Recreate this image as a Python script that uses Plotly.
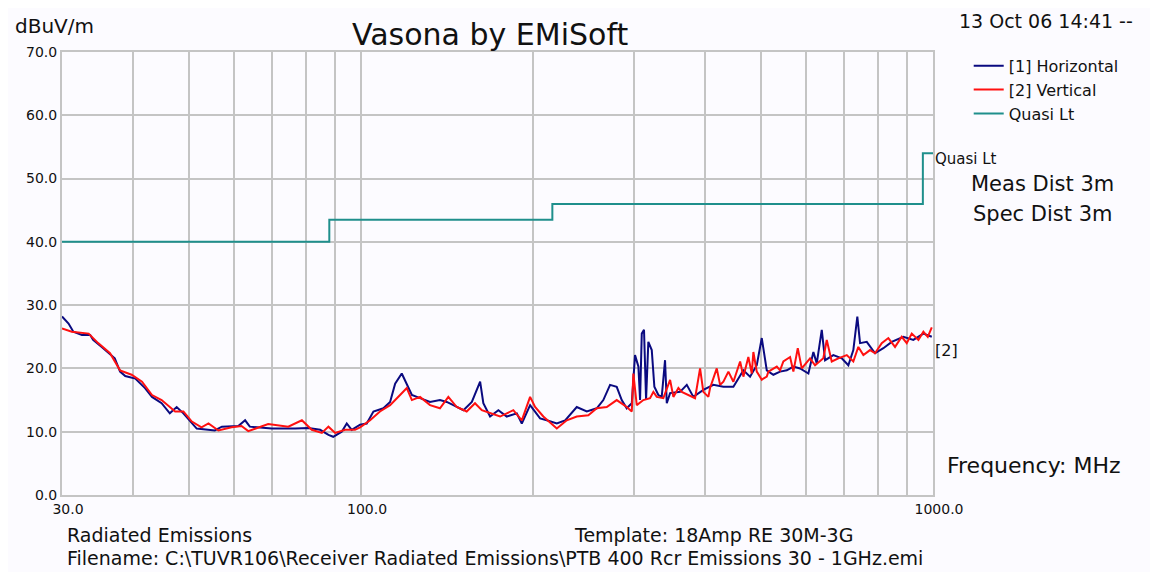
import plotly.graph_objects as go

# Horizontal polarisation [1] - frequency (MHz) / level (dBuV/m)
horiz_freq = [30.0, 30.8, 31.4, 32.5, 33.6, 34.0, 35.2, 37.1, 37.9, 38.7, 40.3, 41.9, 43.1, 44.8, 46.3, 47.6,
              48.9, 50.6, 51.6, 55.5, 57.1, 61.0, 62.7, 63.9, 69.8, 76.7, 80.9, 84.8, 87.7, 89.4, 92.5, 94.4,
              96.3, 99.6, 102.3, 105.1, 109.4, 112.4, 114.7, 117.8, 120.2, 122.7, 126.8, 132.0, 137.4, 141.2,
              145.0, 151.0, 156.2, 161.5, 163.6, 168.1, 173.8, 179.8, 187.2, 191.0, 197.5, 205.6, 211.2, 219.9,
              227.4, 238.3, 248.1, 258.3, 265.2, 272.5, 279.9, 285.6, 291.4, 297.4, 301.3, 305.4, 307.5, 309.6,
              312.4, 315.0, 317.9, 322.3, 325.7, 331.0, 335.5, 340.0, 342.4, 347.0, 361.2, 371.1, 381.1, 396.7,
              413.0, 430.0, 447.7, 466.1, 478.8, 491.9, 501.9, 506.6, 512.1, 525.9, 540.3, 555.1, 570.0, 585.6,
              605.5, 617.8, 626.3, 639.0, 647.6, 669.5, 692.6, 711.2, 725.6, 737.4, 745.5, 765.9, 791.9, 818.8,
              847.0, 887.5, 923.9, 962.0, 995.1]
horiz_level = [28.2, 27.1, 25.8, 25.3, 25.3, 24.5, 23.4, 21.6, 19.5, 18.8, 18.4, 16.9, 15.5, 14.5, 12.9, 13.9,
               12.9, 11.3, 10.5, 10.2, 10.8, 10.9, 11.8, 10.8, 10.5, 10.5, 10.6, 10.3, 9.5, 9.2, 10.0, 11.3,
               10.3, 11.1, 11.3, 13.2, 13.7, 14.7, 17.6, 19.2, 17.6, 15.8, 15.3, 14.7, 15.0, 14.7,
               14.2, 13.4, 14.7, 17.9, 14.5, 12.4, 13.4, 12.4, 12.9, 11.3, 14.2, 12.1, 11.8, 11.3,
               11.8, 13.9, 13.2, 13.7, 15.0, 17.4, 17.1, 15.0, 13.7, 14.5, 22.1, 20.3, 15.0, 25.5,
               26.1, 15.0, 24.2, 22.9, 17.1, 15.8, 15.5, 21.3, 14.5, 16.1, 16.3, 17.4, 15.5, 16.6,
               17.4, 17.1, 17.1, 19.7, 18.7, 20.5, 24.8, 22.4, 19.7, 19.0, 19.5, 19.7, 20.3, 20.0,
               19.2, 22.6, 20.8, 26.1, 21.3, 22.1, 21.6, 20.5, 22.9, 28.2, 24.0, 24.2, 22.4, 23.2,
               24.2, 25.0, 24.5, 25.5, 25.0]

# Vertical polarisation [2]
vert_freq = [30.0, 31.2, 33.4, 34.7, 36.4, 37.9, 39.7, 41.4, 43.1, 44.8, 47.3, 48.9, 50.6, 52.6, 54.1, 56.3,
             59.4, 61.8, 63.5, 68.8, 74.6, 78.8, 82.0, 85.4, 87.7, 90.1, 93.8, 97.6, 99.6, 103.7, 107.9, 112.4,
             117.0, 120.2, 122.7, 126.8, 132.0, 137.4, 142.1, 147.0, 153.0, 158.2, 162.6, 168.1, 175.0, 184.6,
             191.0, 197.5, 201.5, 208.3, 215.5, 219.9, 228.9, 238.3, 249.7, 258.3, 268.9, 279.9, 291.4, 297.4,
             299.3, 303.4, 311.6, 320.1, 324.4, 328.9, 337.7, 347.0, 351.6, 358.8, 363.7, 373.5, 383.7, 391.5,
             396.7, 404.8, 407.6, 418.7, 424.4, 430.0, 438.8, 447.7, 460.0, 466.1, 475.5, 482.1, 485.2, 491.9,
             501.9, 505.1, 512.1, 515.4, 533.2, 540.3, 547.5, 562.5, 570.0, 580.2, 589.6, 609.6, 622.0, 643.1,
             652.0, 665.2, 683.2, 706.7, 725.6, 740.4, 755.5, 776.1, 791.9, 813.5, 835.4, 858.3, 881.8, 899.7,
             918.0, 943.0, 962.0, 979.2, 995.1]
vert_level = [26.3, 25.8, 25.5, 24.0, 22.4, 19.7, 19.0, 17.9, 15.8, 15.0, 13.2, 13.2, 11.6, 10.7, 11.3, 10.2,
              10.7, 10.9, 10.1, 11.2, 10.8, 11.8, 10.3, 9.8, 10.8, 9.8, 10.3, 10.3, 10.7, 11.8, 13.2, 14.2,
              15.8, 16.9, 15.0, 15.5, 14.2, 13.7, 15.5, 13.9, 13.2, 14.5, 13.4, 12.9, 12.4, 13.4,
              11.8, 15.5, 13.9, 12.4, 11.3, 10.5, 11.8, 12.4, 12.6, 13.7, 13.9, 15.0, 13.9, 13.2,
              19.2, 14.2, 15.0, 15.3, 16.3, 15.5, 15.3, 18.2, 15.5, 16.9, 16.3, 15.8, 15.3, 20.0,
              16.3, 15.5, 16.9, 20.0, 17.4, 17.9, 19.5, 17.9, 21.1, 18.7, 21.8, 19.2, 22.6, 19.5,
              18.2, 18.4, 18.7, 19.5, 20.3, 19.7, 21.1, 21.8, 19.5, 23.2, 20.0, 21.6, 20.5, 21.6,
              24.5, 21.1, 21.6, 22.1, 21.1, 23.4, 22.1, 22.9, 22.4, 24.0, 24.8, 23.4, 25.0, 24.0,
              25.5, 24.5, 25.8, 25.0, 26.5]

# Quasi-peak limit (3 m)
limit_freq = [30, 88, 216, 960, 1000]
limit_level = [40, 43.5, 46, 54, 54]

grid_freqs = [30, 40, 50, 60, 70, 80, 90, 100, 200, 300, 400, 500, 600, 700, 800, 900, 1000]
grid_text = ["30.0", "", "", "", "", "", "", "100.0", "", "", "", "", "", "", "", "", "1000.0"]

FONT = "DejaVu Sans"
GRID = "#c4c4c4"

fig = go.Figure()
fig.add_trace(go.Scatter(x=horiz_freq, y=horiz_level, mode="lines", name="[1] Horizontal",
                         line=dict(color="#0a0a80", width=2)))
fig.add_trace(go.Scatter(x=vert_freq, y=vert_level, mode="lines", name="[2] Vertical",
                         line=dict(color="#ff1010", width=2)))
fig.add_trace(go.Scatter(x=limit_freq, y=limit_level, mode="lines", name="Quasi Lt",
                         line=dict(color="#1f8f8c", width=2, shape="hv")))

fig.update_xaxes(type="log", range=[1.4771, 3.0], tickvals=grid_freqs, ticktext=grid_text,
                 showgrid=True, gridcolor=GRID, gridwidth=2, showline=True, linecolor=GRID,
                 linewidth=2, mirror=True, ticks="", ticklabelshift=6,
                 tickfont=dict(family=FONT, size=14, color="#111"))
fig.update_yaxes(range=[0, 70], dtick=10, tickformat=".1f", showgrid=True, gridcolor=GRID,
                 gridwidth=2, showline=True, linecolor=GRID, linewidth=2, mirror=True,
                 ticks="", zeroline=False, tickfont=dict(family=FONT, size=14, color="#111"))

# free texts, positioned relative to the plot frame (page pixels -> paper fraction)
notes = [
    dict(text="Vasona by EMiSoft", x=490, y=35, size=30),
    dict(text="dBuV/m", x=54, y=26, size=20),
    dict(text="13 Oct 06 14:41 --", x=1046, y=21, size=19),
    dict(text="Meas Dist 3m", x=1042, y=184, size=21),
    dict(text="Spec Dist 3m", x=1042, y=214, size=21),
    dict(text="Frequency: MHz", x=1034, y=465, size=22),
]
for n in notes:
    fig.add_annotation(text=n["text"], xref="paper", yref="paper",
                       x=(n["x"] - 62) / 871, y=(495 - n["y"]) / 443,
                       showarrow=False, xanchor="center", yanchor="middle",
                       font=dict(family=FONT, size=n["size"], color="#111"))

# labels at the end of the traces
fig.add_annotation(text="Quasi Lt", x=3.0, y=limit_level[-1] - 0.9, xref="x", yref="y", xanchor="left",
                   yanchor="middle", showarrow=False, font=dict(family=FONT, size=15, color="#111"))
fig.add_annotation(text="[2]", x=3.0, y=22.8, xref="x", yref="y", xanchor="left",
                   yanchor="middle", showarrow=False, font=dict(family=FONT, size=16, color="#111"))

bottom = [
    dict(text="Radiated Emissions", x=65, y=535),
    dict(text="Template: 18Amp RE 30M-3G", x=572, y=535),
    dict(text="Filename: C:\\TUVR106\\Receiver Radiated Emissions\\PTB 400 Rcr Emissions 30 - 1GHz.emi",
         x=65, y=558),
]
for b in bottom:
    fig.add_annotation(text=b["text"], xref="paper", yref="paper",
                       x=(b["x"] - 62) / 871, y=(495 - b["y"]) / 443,
                       showarrow=False, xanchor="left", yanchor="middle",
                       font=dict(family=FONT, size=19, color="#111"))

fig.update_layout(
    width=1158, height=572,
    margin=dict(l=54, r=233, t=44, b=85),
    paper_bgcolor="#fcfbff", plot_bgcolor="#fcfbff",
    showlegend=True,
    legend=dict(x=1.041, y=1.007, xanchor="left", yanchor="top", bgcolor="rgba(0,0,0,0)",
                font=dict(family=FONT, size=16, color="#111"), tracegroupgap=0,
                itemwidth=30),
)

fig.write_html("out.html")
